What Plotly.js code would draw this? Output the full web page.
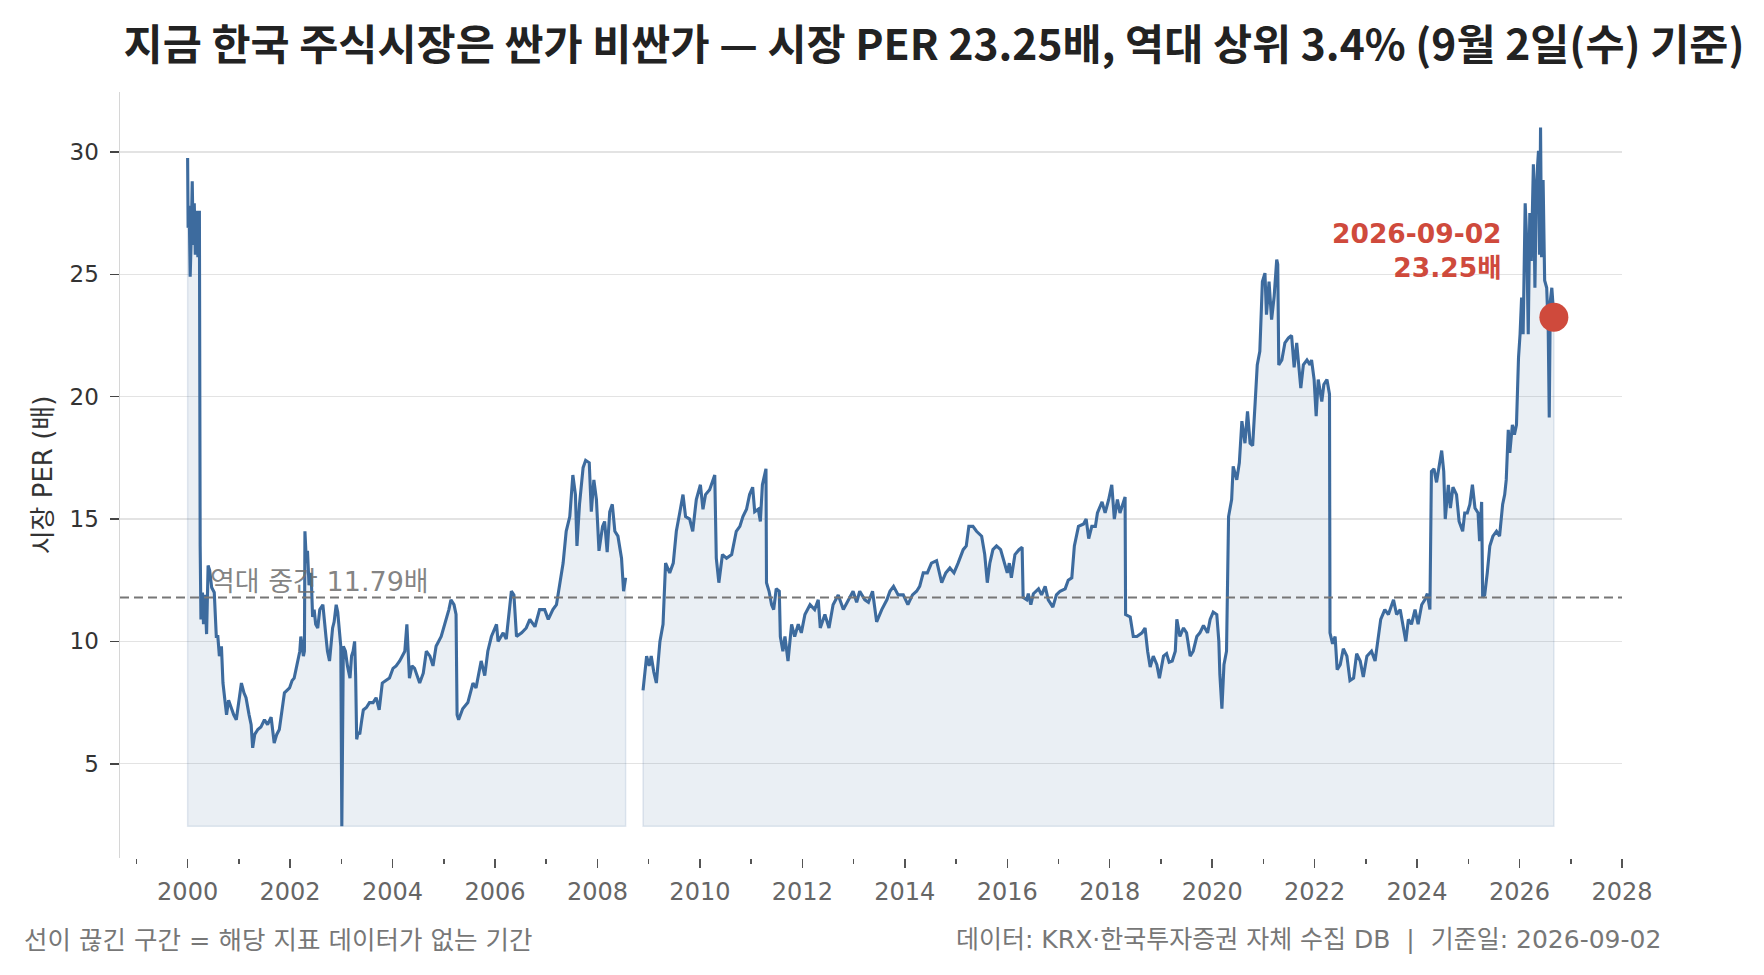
<!DOCTYPE html>
<html>
<head>
<meta charset="utf-8">
<script src="https://cdn.plot.ly/plotly-3.0.1.min.js"></script>
<style>
  html, body { margin: 0; padding: 0; background: #fff; }
  #chart { width: 1764px; height: 975px; }
</style>
</head>
<body>
<div id="chart"></div>
<script>
// 시장 PER (배), 연도 소수 표기. 2008년 말 구간은 데이터 없음
const years1 = [2000.00, 2000.01, 2000.03, 2000.05, 2000.07, 2000.09, 2000.11, 2000.13, 2000.15, 2000.18,
  2000.20, 2000.23, 2000.245, 2000.26, 2000.29, 2000.31, 2000.34, 2000.37, 2000.40, 2000.43,
  2000.47, 2000.52, 2000.56, 2000.59, 2000.62, 2000.66, 2000.69, 2000.72, 2000.76, 2000.80,
  2000.85, 2000.90, 2000.95, 2001.00, 2001.05, 2001.10, 2001.14, 2001.20, 2001.24, 2001.27,
  2001.31, 2001.37, 2001.43, 2001.50, 2001.56, 2001.63, 2001.69, 2001.74, 2001.79, 2001.85,
  2001.89, 2001.94, 2001.99, 2002.04, 2002.08, 2002.12, 2002.15, 2002.19, 2002.21, 2002.26,
  2002.28, 2002.29, 2002.32, 2002.34, 2002.37, 2002.41, 2002.44, 2002.47, 2002.50, 2002.54,
  2002.58, 2002.64, 2002.70, 2002.73, 2002.77, 2002.80, 2002.83, 2002.86, 2002.90, 2002.93,
  2002.96, 2002.99, 2003.01, 2003.04, 2003.08, 2003.12, 2003.17, 2003.20, 2003.23, 2003.26,
  2003.28, 2003.30, 2003.33, 2003.36, 2003.40, 2003.43, 2003.49, 2003.55, 2003.62, 2003.68,
  2003.74, 2003.80, 2003.87, 2003.94, 2004.01, 2004.07, 2004.14, 2004.19, 2004.24, 2004.28,
  2004.31, 2004.33, 2004.38, 2004.43, 2004.53, 2004.60, 2004.66, 2004.73, 2004.79, 2004.85,
  2004.95, 2005.05, 2005.10, 2005.14, 2005.20, 2005.24, 2005.26, 2005.29, 2005.37, 2005.47,
  2005.57, 2005.63, 2005.73, 2005.80, 2005.86, 2005.93, 2006.03, 2006.06, 2006.16, 2006.22,
  2006.29, 2006.32, 2006.37, 2006.42, 2006.52, 2006.61, 2006.68, 2006.78, 2006.87, 2006.97,
  2007.04, 2007.13, 2007.20, 2007.26, 2007.33, 2007.39, 2007.46, 2007.52, 2007.57, 2007.60,
  2007.65, 2007.72, 2007.77, 2007.84, 2007.88, 2007.93, 2007.98, 2008.03, 2008.10, 2008.14,
  2008.19, 2008.24, 2008.29, 2008.34, 2008.40, 2008.47, 2008.51, 2008.55];
const per1 = [29.75, 26.9, 27.8, 24.9, 26.5, 28.8, 26.2, 27.9, 25.8, 27.6,
  25.7, 27.6, 13.9, 10.9, 12.0, 10.7, 11.9, 10.3, 13.1, 12.9,
  12.2, 12.0, 10.2, 10.2, 9.4, 9.8, 8.3, 7.6, 7.0, 7.6,
  7.3, 7.0, 6.8, 7.6, 8.3, 7.9, 7.7, 7.0, 6.6, 5.65,
  6.2, 6.4, 6.5, 6.8, 6.6, 6.9, 5.85, 6.2, 6.4, 7.3,
  7.9, 8.0, 8.1, 8.4, 8.5, 8.9, 9.2, 9.6, 10.2, 9.4,
  9.6, 14.5, 13.2, 13.7, 12.3, 12.8, 11.0, 11.3, 10.7, 10.55,
  11.3, 11.5, 10.2, 9.6, 9.2, 9.8, 10.55, 10.8, 11.5, 11.2,
  10.55, 9.8, 2.45, 9.8, 9.6, 9.0, 8.5, 9.4, 9.6, 10.0,
  8.6, 6.0, 6.3, 6.2, 6.8, 7.2, 7.3, 7.5, 7.5, 7.7,
  7.2, 8.3, 8.4, 8.5, 8.9, 9.0, 9.2, 9.4, 9.6, 10.7,
  9.0, 8.5, 9.0, 8.9, 8.3, 8.7, 9.6, 9.4, 9.0, 9.8,
  10.2, 10.9, 11.3, 11.7, 11.5, 11.1, 7.0, 6.8, 7.25, 7.5,
  8.3, 8.1, 9.2, 8.6, 9.6, 10.2, 10.7, 10.0, 10.35, 10.1,
  11.3, 12.05, 11.9, 10.2, 10.35, 10.55, 10.9, 10.6, 11.3, 11.3,
  10.9, 11.3, 11.5, 12.25, 13.2, 14.5, 15.1, 16.8, 16.0, 13.9,
  15.6, 17.1, 17.4, 17.3, 15.3, 16.6, 15.8, 13.7, 14.7, 14.9,
  13.65, 15.3, 15.6, 14.5, 14.3, 13.4, 12.05, 12.6];

const years2 = [2008.89, 2008.96, 2009.01, 2009.05, 2009.10, 2009.15, 2009.22, 2009.28, 2009.33, 2009.41,
  2009.48, 2009.54, 2009.61, 2009.67, 2009.72, 2009.80, 2009.86, 2009.93, 2010.01, 2010.06,
  2010.11, 2010.19, 2010.29, 2010.32, 2010.37, 2010.44, 2010.52, 2010.62, 2010.71, 2010.78,
  2010.84, 2010.91, 2010.97, 2011.03, 2011.07, 2011.14, 2011.18, 2011.22, 2011.29, 2011.30,
  2011.35, 2011.40, 2011.44, 2011.49, 2011.55, 2011.57, 2011.62, 2011.66, 2011.72, 2011.79,
  2011.85, 2011.92, 2011.98, 2012.05, 2012.15, 2012.24, 2012.31, 2012.35, 2012.44, 2012.52,
  2012.60, 2012.70, 2012.80, 2012.90, 2012.99, 2013.06, 2013.12, 2013.22, 2013.29, 2013.37,
  2013.45, 2013.55, 2013.65, 2013.71, 2013.78, 2013.87, 2013.97, 2014.06, 2014.15, 2014.23,
  2014.29, 2014.36, 2014.44, 2014.52, 2014.62, 2014.72, 2014.80, 2014.88, 2014.96, 2015.04,
  2015.14, 2015.20, 2015.25, 2015.33, 2015.40, 2015.50, 2015.56, 2015.61, 2015.66, 2015.72,
  2015.79, 2015.87, 2015.93, 2016.00, 2016.04, 2016.08, 2016.15, 2016.23, 2016.29, 2016.31,
  2016.38, 2016.41, 2016.46, 2016.51, 2016.61, 2016.67, 2016.74, 2016.80, 2016.89, 2016.96,
  2017.03, 2017.13, 2017.19, 2017.26, 2017.31, 2017.39, 2017.49, 2017.54, 2017.59, 2017.65,
  2017.72, 2017.76, 2017.85, 2017.91, 2017.98, 2018.04, 2018.09, 2018.15, 2018.20, 2018.30,
  2018.31, 2018.40, 2018.46, 2018.53, 2018.63, 2018.69, 2018.74, 2018.79, 2018.85, 2018.92,
  2018.97, 2019.05, 2019.11, 2019.16, 2019.22, 2019.28, 2019.31, 2019.37, 2019.44, 2019.50,
  2019.57, 2019.63, 2019.70, 2019.76, 2019.83, 2019.91, 2019.96, 2020.02, 2020.09, 2020.13,
  2020.15, 2020.19, 2020.23, 2020.28, 2020.32, 2020.38, 2020.41, 2020.48, 2020.53, 2020.58,
  2020.64, 2020.69, 2020.74, 2020.79, 2020.84, 2020.88, 2020.93, 2020.98, 2021.03, 2021.06,
  2021.11, 2021.16, 2021.21, 2021.26, 2021.28, 2021.30, 2021.36, 2021.42, 2021.49, 2021.55,
  2021.60, 2021.65, 2021.73, 2021.78, 2021.85, 2021.91, 2021.94, 2021.99, 2022.03, 2022.07,
  2022.14, 2022.18, 2022.24, 2022.29, 2022.30, 2022.35, 2022.40, 2022.44, 2022.50, 2022.56,
  2022.63, 2022.69, 2022.76, 2022.82, 2022.89, 2022.95, 2023.02, 2023.11, 2023.18, 2023.24,
  2023.29, 2023.37, 2023.44, 2023.54, 2023.60, 2023.67, 2023.73, 2023.78, 2023.83, 2023.89,
  2023.96, 2024.02, 2024.09, 2024.15, 2024.20, 2024.25, 2024.28, 2024.33, 2024.38, 2024.43,
  2024.48, 2024.52, 2024.55, 2024.61, 2024.65, 2024.70, 2024.77, 2024.82, 2024.89, 2024.93,
  2024.98, 2025.03, 2025.08, 2025.13, 2025.19, 2025.22, 2025.26, 2025.28, 2025.32, 2025.37,
  2025.42, 2025.48, 2025.55, 2025.61, 2025.67, 2025.71, 2025.74, 2025.78, 2025.81, 2025.86,
  2025.90, 2025.94, 2025.98, 2026.01, 2026.04, 2026.07, 2026.11, 2026.14, 2026.17, 2026.20,
  2026.23, 2026.27, 2026.30, 2026.33, 2026.37, 2026.39, 2026.41, 2026.43, 2026.46, 2026.49,
  2026.53, 2026.56, 2026.58, 2026.60, 2026.63, 2026.67];
const per2 = [8.0, 9.4, 9.0, 9.4, 8.75, 8.3, 10.0, 10.7, 13.2, 12.8,
  13.2, 14.5, 15.3, 16.0, 15.1, 15.0, 14.5, 15.8, 16.4, 15.4,
  16.0, 16.2, 16.8, 13.4, 12.4, 13.55, 13.4, 13.55, 14.5, 14.7,
  15.1, 15.4, 16.0, 16.3, 15.3, 15.4, 14.9, 16.4, 17.05, 12.4,
  12.05, 11.5, 11.3, 12.15, 12.05, 10.2, 9.6, 10.2, 9.2, 10.7,
  10.2, 10.7, 10.35, 11.1, 11.5, 11.3, 11.7, 10.55, 11.1, 10.55,
  11.5, 11.9, 11.3, 11.7, 12.05, 11.6, 12.05, 11.7, 11.6, 12.05,
  10.8, 11.3, 11.7, 12.05, 12.25, 11.9, 11.9, 11.5, 11.9, 12.05,
  12.25, 12.8, 12.8, 13.2, 13.3, 12.4, 12.8, 13.0, 12.8, 13.2,
  13.75, 13.9, 14.7, 14.7, 14.5, 14.3, 13.55, 12.4, 13.2, 13.75,
  13.9, 13.75, 13.3, 12.8, 13.2, 12.6, 13.55, 13.75, 13.85, 11.8,
  11.7, 11.95, 11.5, 11.95, 12.15, 11.9, 12.25, 11.7, 11.4, 11.9,
  12.05, 12.15, 12.5, 12.6, 13.9, 14.7, 14.8, 15.0, 14.2, 14.7,
  14.7, 15.25, 15.7, 15.25, 15.8, 16.4, 15.0, 15.8, 15.25, 15.9,
  11.1, 11.0, 10.2, 10.2, 10.35, 10.55, 9.6, 8.95, 9.4, 9.05,
  8.5, 9.4, 9.5, 9.15, 9.2, 9.6, 10.9, 10.2, 10.55, 10.35,
  9.4, 9.6, 10.2, 10.35, 10.65, 10.35, 10.9, 11.2, 11.1, 10.0,
  8.65, 7.25, 9.05, 9.6, 15.1, 15.8, 17.15, 16.6, 17.3, 19.0,
  18.1, 19.4, 18.1, 18.0, 19.8, 21.3, 21.85, 24.7, 25.05, 23.35,
  24.7, 23.15, 24.1, 25.6, 25.4, 21.3, 21.5, 22.2, 22.4, 22.5,
  21.2, 22.2, 20.35, 21.3, 21.5, 21.3, 21.5, 20.7, 19.2, 20.7,
  19.8, 20.5, 20.7, 20.1, 10.35, 9.9, 10.2, 8.85, 9.05, 9.7,
  9.4, 8.4, 8.5, 9.5, 9.2, 8.55, 9.4, 9.6, 9.2, 10.2,
  10.9, 11.3, 11.1, 11.7, 11.1, 11.3, 10.55, 10.0, 10.9, 10.7,
  11.3, 10.7, 11.5, 11.7, 11.95, 11.3, 16.95, 17.05, 16.5, 17.15,
  17.8, 16.95, 15.0, 16.4, 15.45, 16.3, 16.0, 14.9, 14.5, 15.25,
  15.25, 15.6, 16.4, 15.45, 15.25, 14.1, 15.7, 11.8, 11.9, 12.8,
  13.9, 14.3, 14.5, 14.3, 15.6, 16.0, 16.6, 18.65, 17.7, 18.85,
  18.45, 18.85, 21.6, 22.55, 24.05, 22.55, 27.9, 26.4, 22.55, 27.5,
  25.55, 29.5, 24.45, 28.7, 30.05, 25.8, 31.0, 25.7, 28.85, 24.75,
  24.45, 22.7, 19.15, 23.9, 24.45, 23.25];

const medianPer = 11.79;
const lastDate = '2026-09-02';
const lastPer = 23.25;
const yTicks = [5, 10, 15, 20, 25, 30];

const lineColor = '#3d6b9e';
const fillColor = 'rgba(61,107,158,0.11)';
const edgeColor = 'rgba(61,107,158,0.14)';
const red = '#cf4a3c';

const base = Math.min(Math.min(...per1), Math.min(...per2));

// 채움 영역 바닥선 (구간 양 끝 세로선 포함)
function baseTrace(xs, ys) {
  const x0 = xs[0], x1 = xs[xs.length - 1];
  return {
    x: [x0, x0, x1, x1], y: [ys[0], base, base, ys[ys.length - 1]],
    mode: 'lines', line: {color: edgeColor, width: 1.5},
    hoverinfo: 'skip', showlegend: false
  };
}
function perTrace(xs, ys) {
  return {
    x: xs, y: ys, mode: 'lines', fill: 'tonexty', fillcolor: fillColor,
    line: {color: lineColor, width: 3.1}, showlegend: false
  };
}

const data = [
  baseTrace(years1, per1), perTrace(years1, per1),
  baseTrace(years2, per2), perTrace(years2, per2),
  {
    x: [years2[years2.length - 1]], y: [lastPer], mode: 'markers',
    marker: {size: 29, color: red}, showlegend: false
  }
];

const FONT = 'DejaVu Sans, Noto Sans CJK KR, sans-serif';

const layout = {
  width: 1764, height: 975,
  margin: {l: 120, r: 142, t: 92, b: 117},
  paper_bgcolor: '#fff', plot_bgcolor: '#fff',
  font: {family: FONT, color: '#333'},
  hovermode: false,
  title: {
    text: '지금 한국 주식시장은 싼가 비싼가 — 시장 PER 23.25배, 역대 상위 3.4% (9월 2일(수) 기준)',
    font: {family: 'Noto Sans CJK KR, sans-serif', size: 42.5, color: '#222', weight: 'bold'},
    xref: 'container', x: 0.5295, xanchor: 'center',
    yref: 'container', y: 1 - 45 / 975, yanchor: 'middle'
  },
  xaxis: {
    range: [1998.68, 2028],
    tickmode: 'linear', tick0: 2000, dtick: 2,
    ticks: 'outside', ticklen: 9, tickwidth: 1.5, tickcolor: '#555',
    showgrid: false, zeroline: false, showline: false,
    tickfont: {size: 24, color: '#666'},
    ticklabelstandoff: 3,
    minor: {tick0: 1999, dtick: 1, ticks: 'outside', ticklen: 5, tickwidth: 1.5, tickcolor: '#555', showgrid: false}
  },
  yaxis: {
    range: [1.15, 32.45],
    tickvals: yTicks,
    ticks: 'outside', ticklen: 9, tickwidth: 1.5, tickcolor: '#444',
    showline: true, linecolor: '#d6d6d6', linewidth: 1.5,
    gridcolor: '#e3e3e3', gridwidth: 1.2, zeroline: false,
    tickfont: {size: 23, color: '#333'},
    ticklabelstandoff: 6,
    title: {text: '시장 PER (배)', font: {size: 26, color: '#333'}, standoff: 9}
  },
  shapes: [{
    type: 'line', xref: 'paper', x0: 0, x1: 1, yref: 'y', y0: medianPer, y1: medianPer,
    line: {color: '#777', width: 2, dash: '9px,5px'}, layer: 'above'
  }],
  annotations: [
    {
      text: '역대 중간 ' + medianPer.toFixed(2) + '배', x: 2000.39, y: medianPer,
      xanchor: 'left', yanchor: 'bottom', yshift: -1, showarrow: false,
      font: {size: 27, color: 'rgba(110,110,110,0.85)'}
    },
    {
      text: '<b>' + lastDate + '<br>' + lastPer.toFixed(2) + '배</b>',
      x: years2[years2.length - 1], y: lastPer, xanchor: 'right', yanchor: 'middle', align: 'right',
      xshift: -50, yshift: 67, showarrow: false,
      font: {size: 26.5, color: red}
    },
    {
      text: '선이 끊긴 구간 = 해당 지표 데이터가 없는 기간',
      xref: 'paper', yref: 'paper', x: -0.0653, y: -0.107, xanchor: 'left', yanchor: 'middle',
      showarrow: false, font: {size: 25.5, color: '#777'}
    },
    {
      text: '데이터: KRX·한국투자증권 자체 수집 DB\u00a0\u00a0|\u00a0\u00a0기준일: ' + lastDate,
      xref: 'paper', yref: 'paper', x: 1.0273, y: -0.107, xanchor: 'right', yanchor: 'middle',
      showarrow: false, font: {size: 25, color: '#777'}
    }
  ]
};

Plotly.newPlot('chart', data, layout, {staticPlot: true, displayModeBar: false});
</script>
</body>
</html>
